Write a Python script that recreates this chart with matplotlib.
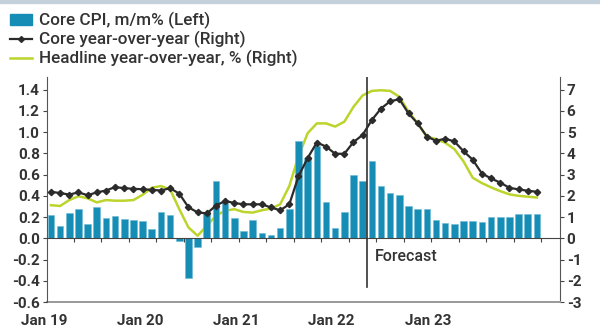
import matplotlib
matplotlib.use("Agg")
import matplotlib.pyplot as plt
import numpy as np
from matplotlib.patches import Patch
from matplotlib.lines import Line2D

# values, monthly from Jan 2019 to Jun 2023
core_mm = [0.22, 0.12, 0.24, 0.28, 0.13, 0.29, 0.19, 0.21, 0.18, 0.17,
           0.16, 0.09, 0.25, 0.22, -0.03, -0.37, -0.08, 0.24, 0.54, 0.34,
           0.19, 0.07, 0.17, 0.05, 0.03, 0.10, 0.28, 0.92, 0.76, 0.87,
           0.34, 0.10, 0.25, 0.60, 0.54, 0.73, 0.49, 0.43, 0.41, 0.30,
           0.28, 0.28, 0.17, 0.14, 0.13, 0.16, 0.16, 0.15, 0.20, 0.20,
           0.20, 0.23, 0.23, 0.23]
core_yoy = [2.19, 2.13, 2.06, 2.16, 2.03, 2.16, 2.25, 2.41, 2.36, 2.33,
            2.31, 2.28, 2.25, 2.36, 2.10, 1.46, 1.22, 1.17, 1.54, 1.76,
            1.66, 1.60, 1.60, 1.60, 1.45, 1.32, 1.60, 2.92, 3.78, 4.51,
            4.32, 3.98, 3.98, 4.53, 4.87, 5.57, 6.11, 6.45, 6.55, 5.88,
            5.41, 4.79, 4.59, 4.69, 4.56, 4.10, 3.70, 3.05, 2.82, 2.62,
            2.38, 2.30, 2.24, 2.19]
headline_yoy = [1.56, 1.52, 1.80, 1.98, 1.88, 1.69, 1.80, 1.77, 1.77, 1.80,
                2.05, 2.38, 2.46, 2.30, 1.37, 0.51, 0.12, 0.59, 1.06, 1.30,
                1.37, 1.24, 1.21, 1.32, 1.40, 1.60, 2.46, 3.86, 4.95, 5.41,
                5.41, 5.26, 5.49, 6.19, 6.73, 6.94, 6.97, 6.94, 6.66, 5.96,
                5.41, 4.79, 4.67, 4.50, 4.20, 3.62, 2.85, 2.60, 2.40, 2.22,
                2.07, 2.00, 1.96, 1.92]
year_labels = ["Jan 19", "Jan 20", "Jan 21", "Jan 22", "Jan 23"]
year_label_pos = [-0.7, 9.7, 20.2, 30.6, 41.1]
forecast_start = 34.5

x = np.arange(len(core_mm))
text_col = "#333333"
plt.rcParams["font.family"] = ["Roboto", "DejaVu Sans"]
plt.rcParams["axes.unicode_minus"] = False

fig = plt.figure(figsize=(6, 3.35), dpi=100)
ax = fig.add_axes([0.078, 0.0985, 0.855, 0.672])
ax2 = ax.twinx()
ax.set_zorder(ax2.get_zorder() + 1)
ax.patch.set_visible(False)

ax.bar(x, core_mm, width=0.72, color="#168db5", edgecolor="#6cbcd8", linewidth=0.4, zorder=2)
ax2.plot(x, headline_yoy, color="#bcd42c", lw=1.8, zorder=3)
ax.plot(x, np.array(core_yoy) / 5, color="#2b2b2b", lw=1.6, marker="D", ms=3.2, zorder=4)

ax.set_xlim(-0.45, 55.5)
ax.set_ylim(-0.6, 1.52)
ax2.set_ylim(-3, 7.6)

ax.axvline(forecast_start, ymin=0.065, ymax=1.0, color="#333333", lw=1.2, zorder=5)
ax.text(35.3, -0.175, "Forecast", fontsize=11.5, color=text_col, va="center", ha="left",
        fontweight="medium")

# zero line with quarterly ticks
ax.spines["bottom"].set_position(("data", 0))
ax.spines["bottom"].set_color("#444444")
ax.set_xticks(np.arange(2.5, 54, 3))
ax.tick_params(axis="x", length=3, width=0.8, color="#444444", labelbottom=False)

# bottom frame line and year labels
ax.axhline(-0.6, color="#999999", lw=1.4, clip_on=False, zorder=1)
for pos, lab in zip(year_label_pos, year_labels):
    ax.text(pos, -0.085, lab, transform=ax.get_xaxis_transform(), ha="center", va="center",
            fontsize=11, color=text_col, fontweight="bold")

ax.set_yticks(np.arange(-0.6, 1.41, 0.2))
ax.set_yticklabels([f"{v:.1f}" for v in np.arange(-0.6, 1.41, 0.2)])
ax.tick_params(axis="y", length=3, width=0.8, color="#444444", labelsize=11, labelcolor=text_col, pad=2)
ax2.set_yticks(range(-3, 8))
ax2.tick_params(axis="y", length=3, width=0.8, color="#444444", labelsize=11, labelcolor=text_col, pad=2)
for lab in ax.get_yticklabels() + ax2.get_yticklabels():
    lab.set_fontweight("bold")

for a in (ax, ax2):
    a.spines["top"].set_visible(False)
ax.spines["left"].set_color("#555555")
ax2.spines["right"].set_color("#555555")
ax2.spines["left"].set_visible(False)
ax2.spines["bottom"].set_visible(False)
ax.spines["right"].set_visible(False)

# legend
handles = [Patch(color="#168db5"),
           Line2D([], [], color="#2b2b2b", lw=1.6, marker="D", ms=3),
           Line2D([], [], color="#bcd42c", lw=1.8)]
labels = ["Core CPI, m/m% (Left)", "Core year-over-year (Right)",
          "Headline year-over-year, % (Right)"]
leg = fig.legend(handles, labels, loc="upper left", bbox_to_anchor=(0.005, 0.985),
                 frameon=False, fontsize=12.3, handlelength=1.3, handleheight=0.6,
                 handletextpad=0.4, labelspacing=0.12, borderaxespad=0,
                 labelcolor=text_col)
for t in leg.get_texts():
    t.set_fontweight("medium")

# thin band at the top of the image
fig.patches.append(plt.Rectangle((0, 0.99), 1, 0.01, transform=fig.transFigure,
                                 color="#c5d1da", zorder=0))

fig.savefig("out.png", dpi=100)
